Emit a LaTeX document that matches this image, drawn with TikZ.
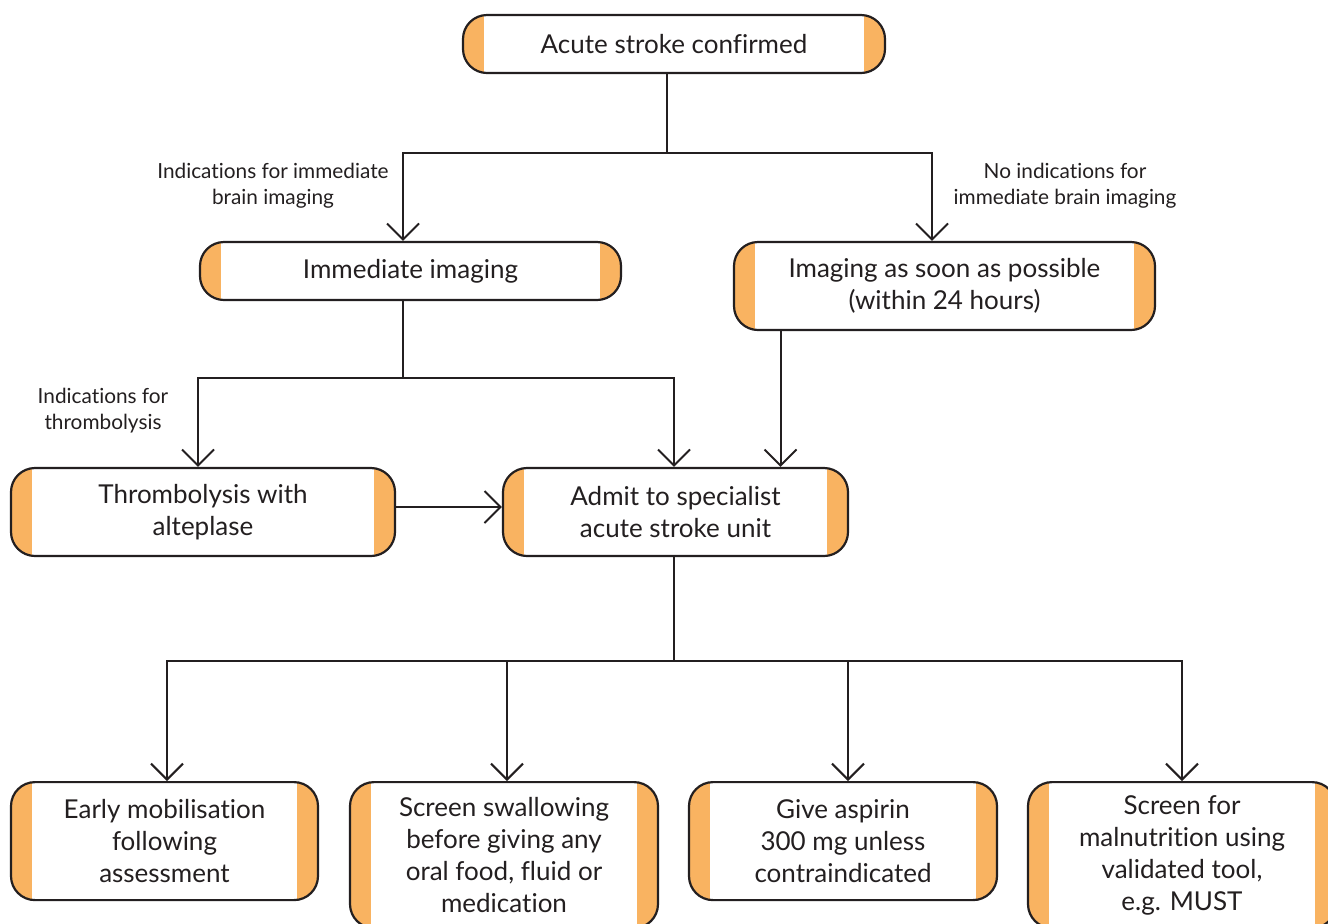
\documentclass[tikz,border=0pt]{standalone}
\usepackage{fontspec}
\setmainfont{Lato}[Ligatures=NoCommon]
\usepackage{xcolor}
\usetikzlibrary{positioning,arrows.meta}
\definecolor{strokeline}{HTML}{231F20}
\definecolor{stripe}{HTML}{F9B361}
\tikzset{
pathbox/.style={draw=strokeline, line width=1.1pt, rounded corners=12pt, fill=white,
  align=center, inner sep=0pt, text=strokeline, font=\fontsize{13}{16}\selectfont,
  path picture={
    \fill[stripe, sharp corners] (path picture bounding box.south west) rectangle ([xshift=10.5pt]path picture bounding box.north west);
    \fill[stripe, sharp corners] (path picture bounding box.south east) rectangle ([xshift=-10.5pt]path picture bounding box.north east);}},
cond/.style={align=center, inner sep=0pt, text=strokeline, font=\fontsize{10.4}{13}\selectfont},
link/.style={draw=strokeline, line width=1pt},
flow/.style={link, -{Straight Barb[length=8pt,width=16pt]}}
}

\begin{document}
\begin{tikzpicture}[x=0.5pt, y=-0.5pt]
  \useasboundingbox (0,0) rectangle (1328,923);
  % boxes
  \node[pathbox, minimum width=211pt, minimum height=29pt] (acute) at (674,44) {Acute stroke confirmed};
  \node[pathbox, minimum width=210.5pt, minimum height=29pt] (immediate) at (410.5,271) {Immediate imaging};
  \node[pathbox, minimum width=210.5pt, minimum height=44pt] (soon) at (944.5,286) {Imaging as soon as possible\\(within 24 hours)};
  \node[pathbox, minimum width=192pt, minimum height=44pt] (thrombo) at (203,512) {Thrombolysis with\\alteplase};
  \node[pathbox, minimum width=172.5pt, minimum height=44pt] (admit) at (675.5,512) {Admit to specialist\\acute stroke unit};
  \node[pathbox, anchor=north, minimum width=153.5pt, minimum height=59pt] (mobil) at (164.5,781) {Early mobilisation\\following\\assessment};
  \node[pathbox, anchor=north, minimum width=154pt, minimum height=73pt] (swallow) at (504,781) {Screen swallowing\\before giving any\\oral food, fluid or\\medication};
  \node[pathbox, anchor=north, minimum width=154pt, minimum height=59pt] (aspirin) at (843,781) {Give aspirin\\300 mg unless\\contraindicated};
  \node[pathbox, anchor=north, minimum width=154pt, minimum height=73pt] (malnut) at (1182,781) {Screen for\\malnutrition using\\validated tool,\\e.g. MUST};
  % conditions
  \node[cond] (brainyes) at (273,186) {Indications for immediate\\brain imaging};
  \node[cond] (brainno) at (1065,186) {No indications for\\immediate brain imaging};
  \node[cond] (lysis) at (103,411) {Indications for\\thrombolysis};
  % forks
  \coordinate (fork1) at (667,153);
  \coordinate (fork2) at (403,378);
  \coordinate (fork3) at (674,661);
  \draw[flow] ([xshift=-3.5pt]acute.south) -- (fork1) -| ([xshift=-3.75pt]immediate.north);
  \draw[flow] ([xshift=-3.5pt]acute.south) -- (fork1) -| ([xshift=-6.25pt]soon.north);
  \draw[flow] ([xshift=-3.75pt]immediate.south) -- (fork2) -| ([xshift=-2.5pt]thrombo.north);
  \draw[flow] ([xshift=-3.75pt]immediate.south) -- (fork2) -| ([xshift=-0.75pt]admit.north);
  \draw[flow] ([xshift=-82pt]soon.south) -- ([xshift=-82pt]soon.south |- admit.north);
  \draw[flow] ([yshift=2.5pt]thrombo.east) -- ([yshift=2.5pt]admit.west);
  \foreach \t/\s in {mobil/1.25pt,swallow/1.5pt,aspirin/2.5pt,malnut/0pt}
    \draw[flow] ([xshift=-0.75pt]admit.south) -- (fork3) -| ([xshift=\s]\t.north);
\end{tikzpicture}
\end{document}
